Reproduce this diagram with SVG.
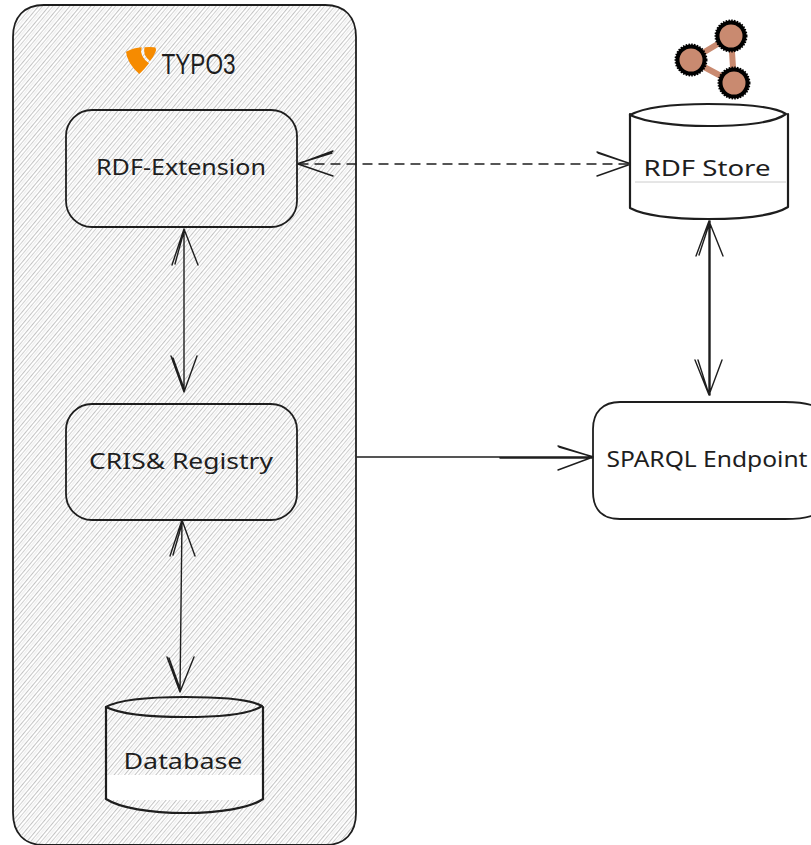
<svg xmlns="http://www.w3.org/2000/svg" width="811" height="845" viewBox="0 0 811 845">
<style>
.s{fill:none;stroke:#1e1e1e;stroke-width:1.4;stroke-linecap:round;stroke-linejoin:round}
.b{stroke-width:1.800}
.h{stroke-width:2.200}
.t{font-family:"Noto Sans","Liberation Sans",sans-serif;font-size:22px;fill:#1e1e1e;text-anchor:middle}
.g{fill:#c98a70;stroke:#000;stroke-width:4}
.d{fill:none;stroke:#000;stroke-width:2;stroke-dasharray:1.500 1.300}
</style>
<defs>
<pattern id="hatch" width="8" height="8" patternUnits="userSpaceOnUse" patternTransform="rotate(-50)">
<rect width="8" height="8" fill="#fff"/>
<line x1="0" y1="1.500" x2="8" y2="1.500" stroke="#bcbcbc" stroke-width=".9"/>
<line x1="0" y1="4.500" x2="8" y2="4.500" stroke="#cccccc" stroke-width=".9"/>
<line x1="0" y1="6.800" x2="8" y2="6.800" stroke="#e0e0e0" stroke-width=".8"/>
</pattern>
</defs>
<rect width="811" height="845" fill="#fff"/>
<g id="container">
<rect x="13" y="5" width="343" height="840" rx="31" fill="url(#hatch)"/>
<path class="s b" d="M44 5H325C345 5 356 17 356 37V813C356 833 345 845 325 845H44C24 845 13 833 13 813V37C13 17 24 5 44 5Z"/>
</g>
<g id="typo3-logo">
<path fill="#f68b00" d="M126 51.700Q134 47.500 141.700 47.200Q139 56 149 63.300Q144 70 139.300 74Q127 63 126 51.700Z"/>
<path fill="#f68b00" d="M144.500 47.200Q152 46.500 155.500 47.500Q156.500 50 155.500 52Q153 58 150 61Q142.500 55 144.500 47.200Z"/>
<text x="161.500" y="74" font-family="Liberation Sans,sans-serif" font-size="30" fill="#1e1e1e" textLength="74" lengthAdjust="spacingAndGlyphs">TYPO3</text>
</g>
<g id="graph-icon">
<path fill="none" stroke="#c98a70" stroke-width="6" d="M731 36L691 60L734 83Z"/>
<circle class="g" cx="731" cy="36" r="13.500"/>
<circle class="d" cx="731" cy="36" r="15.500"/>
<circle class="g" cx="691" cy="60" r="13.500"/>
<circle class="d" cx="691" cy="60" r="15.500"/>
<circle class="g" cx="734" cy="83" r="13.500"/>
<circle class="d" cx="734" cy="83" r="15.500"/>
</g>
<g id="connectors">
<path class="s" stroke-dasharray="9 7" d="M299 164H631"/>
<path class="s" d="M333 151L298 164L333 176M298 163.500L332 153M597 152L631 164L597 176M598 153L630 163.500"/>
<path class="s" d="M184 229V392M184 229L172 265M184 229L198 265M184 231L175 264M184 392L171 356M184 392L197 356M184.500 390L173 358"/>
<path class="s" d="M182 520L180 692M182 520L170 556M182 520L195 556M182.500 522L173 555M180 692L167 657M180 692L194 657M180.500 690L169 658"/>
<path class="s" stroke-width="2" d="M709 221V395M710 221V395M709 221L696 256M709 221L723 256M709.500 223L699 255M709 395L695 360M709 395L722 360M708.500 393L698 360"/>
<path class="s" d="M357 457H593M500 458H592M558 446L593 457L558 470M559 447L592 456.500"/>
</g>
<g id="rdf-extension">
<rect class="s b" x="66" y="110" width="231" height="117" rx="26"/>
<text class="t" x="181" y="175" textLength="170" lengthAdjust="spacingAndGlyphs">RDF-Extension</text>
</g>
<g id="cris-registry">
<rect class="s b" x="66" y="404" width="231" height="116" rx="26"/>
<text class="t" x="181" y="469" textLength="184" lengthAdjust="spacingAndGlyphs">CRIS&amp; Registry</text>
</g>
<g id="database">
<path fill="#fff" d="M107 775H263V800H107Z"/>
<path class="s h" d="M106 707V799C120 808 150 813 185 813C220 813 250 808 263 799V707"/>
<path class="s h" d="M106 707C120 699 150 697 185 697C220 697 250 699 262 706C250 714 220 717 185 717C150 717 120 714 106 707Z"/>
<text class="t" x="183" y="769" textLength="119" lengthAdjust="spacingAndGlyphs">Database</text>
</g>
<g id="rdf-store">
<rect x="631" y="112" width="157" height="98" fill="#fff"/>
<path d="M635 182H786" stroke="#ccc" stroke-width="1" fill="none"/>
<path class="s h" d="M630 114V208C645 216 675 219 708 219C745 219 775 215 788 207V114"/>
<path class="s h" d="M630 115C645 107 675 104 708 104C745 104 775 107 786 114C775 122 745 126 708 126C675 126 645 122 630 115Z"/>
<text class="t" x="707" y="176" textLength="127" lengthAdjust="spacingAndGlyphs">RDF Store</text>
</g>
<g id="sparql-endpoint">
<path class="s b" d="M811 405C805 403 795 402 785 402H620C603 402 593 412 593 429V492C593 510 603 519 620 519H785C795 519 805 518 811 516"/>
<text class="t" x="707" y="467" textLength="201" lengthAdjust="spacingAndGlyphs">SPARQL Endpoint</text>
</g>
</svg>
